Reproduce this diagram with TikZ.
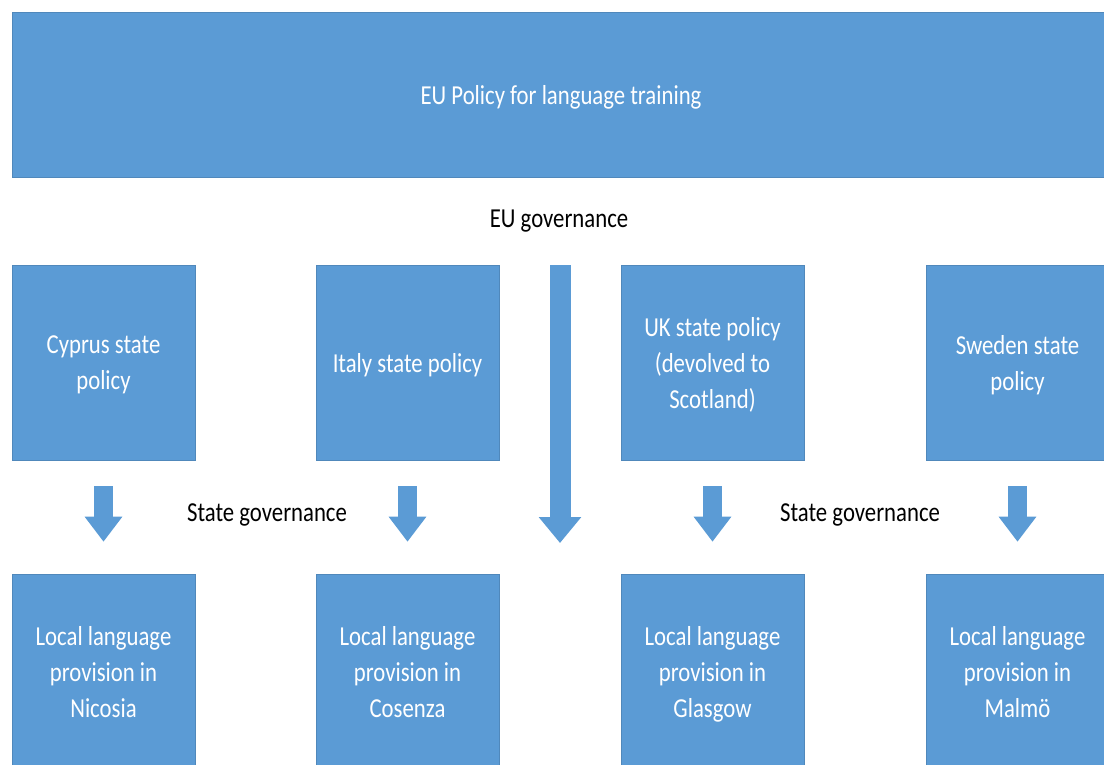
\documentclass[tikz,border=0pt]{standalone}
\usepackage{fontspec}
\usetikzlibrary{arrows.meta}
\newfontfamily\govfont[FakeStretch=0.83]{Carlito}
\definecolor{eublue}{HTML}{5B9BD5}
\tikzset{
	govbox/.style={draw=eublue!88!black, line width=0.3pt, fill=eublue, text=white, inner sep=0pt, align=center, text depth=0pt, font=\govfont\fontsize{15.6}{20.5}\selectfont},
	statebox/.style={govbox, minimum width=36.6mm, minimum height=39mm},
	govlabel/.style={font=\govfont\fontsize{15.6}{20.5}\selectfont, text=black},
	smallarrow/.style={draw=eublue, line width=3.8mm, -{Triangle[width=7.2mm, length=5mm]}, shorten <=5.2mm, shorten >=6.4mm},
	bigarrow/.style={draw=eublue, line width=4.2mm, -{Triangle[width=8.2mm, length=5.2mm]}, shorten <=17.6mm}
}

\begin{document}
\begin{tikzpicture}[x=0.2mm, y=-0.2mm]
		%%%%% START %%%%%
		\useasboundingbox (0, 0) rectangle (1104, 764);
		
		\node[govbox, minimum width=219.6mm, minimum height=33mm] (eu) at (561, 94.5) {EU Policy for language training};
		\node[govlabel] (eugov) at (559, 221) {EU governance};
		
		\node[statebox] (cyprus) at (103.5, 362.5) {Cyprus state\\policy};
		\node[statebox] (italy) at (407.5, 362.5) {Italy state policy};
		\node[statebox] (uk) at (712.5, 362.5) {UK state policy\\(devolved to\\Scotland)};
		\node[statebox] (sweden) at (1017.5, 362.5) {Sweden state\\policy};
		
		\node[statebox, minimum height=39.2mm] (nicosia) at (103.5, 672) {Local language\\provision in\\Nicosia};
		\node[statebox, minimum height=39.2mm] (cosenza) at (407.5, 672) {Local language\\provision in\\Cosenza};
		\node[statebox, minimum height=39.2mm] (glasgow) at (712.5, 672) {Local language\\provision in\\Glasgow};
		\node[statebox, minimum height=39.2mm] (malmo) at (1017.5, 672) {Local language\\provision in\\Malmö};
		
		\node[govlabel] (stategovl) at (267, 515) {State governance};
		\node[govlabel] (stategovr) at (860, 515) {State governance};
		
		\draw[smallarrow] (cyprus) -- (nicosia);
		\draw[smallarrow] (italy) -- (cosenza);
		\draw[smallarrow] (uk) -- (glasgow);
		\draw[smallarrow] (sweden) -- (malmo);
		
		\coordinate (eutip) at (560, 543);
		\draw[bigarrow] (eu.south -| eutip) -- (eutip);
		%%%%% END %%%%%
\end{tikzpicture}
\end{document}
